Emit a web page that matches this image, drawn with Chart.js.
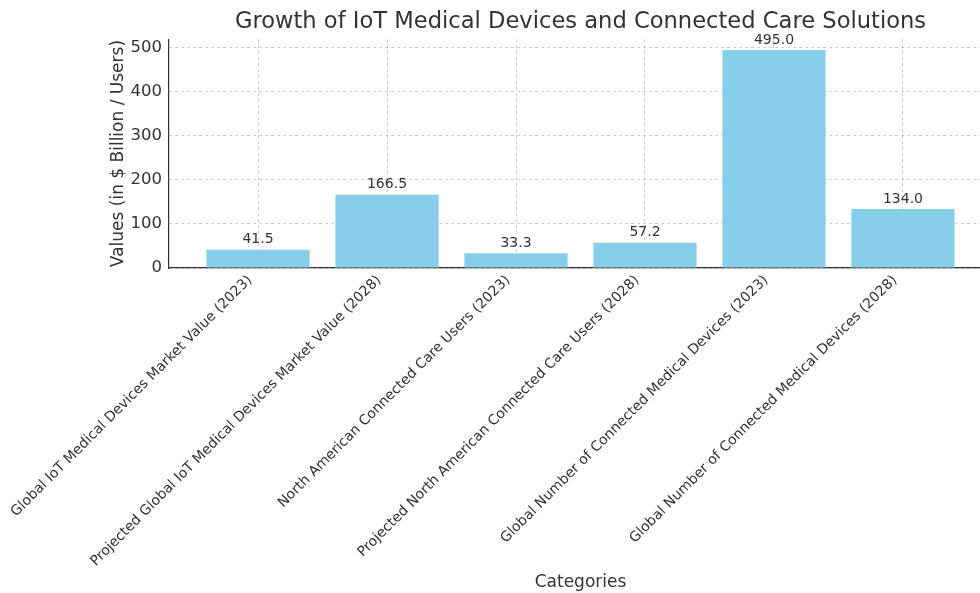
<!DOCTYPE html>
<html>
<head>
<meta charset="utf-8">
<script src="https://cdn.jsdelivr.net/npm/chart.js@4.4.1/dist/chart.umd.min.js"></script>
<style>
  html, body { margin: 0; padding: 0; background: #fff; overflow: hidden; }
  #wrap { width: 1000px; height: 593px; }
</style>
</head>
<body>
<div id="wrap"><canvas id="chart" width="1000" height="593"></canvas></div>
<script>
// categories and values
const categories = [
    'Global IoT Medical Devices Market Value (2023)',
    'Projected Global IoT Medical Devices Market Value (2028)',
    'North American Connected Care Users (2023)',
    'Projected North American Connected Care Users (2028)',
    'Global Number of Connected Medical Devices (2023)',
    'Global Number of Connected Medical Devices (2028)'
];
const values = [41.5, 166.5, 33.3, 57.2, 495.0, 134.0];
const yTicks = [0, 100, 200, 300, 400, 500];

const TEXT = '#333333';
const FONT = 'DejaVu Sans';
const GRID = 'rgba(0,0,0,0.2)';

// value labels over the bars
const barLabels = {
    id: 'barLabels',
    afterDatasetsDraw(chart) {
        const ctx = chart.ctx;
        const meta = chart.getDatasetMeta(0);
        ctx.save();
        ctx.font = `14px "${FONT}"`;
        ctx.fillStyle = TEXT;
        ctx.textAlign = 'center';
        ctx.textBaseline = 'bottom';
        meta.data.forEach((bar, i) => {
            ctx.fillText(values[i].toFixed(1), bar.x, bar.y - 3);
        });
        ctx.restore();
    }
};

new Chart(document.getElementById('chart'), {
    type: 'bar',
    data: {
        datasets: [{
            data: values.map((v, i) => ({ x: i, y: v })),
            backgroundColor: '#87CEEB',
            borderWidth: 0,
            barPercentage: 1,
            categoryPercentage: 0.8
        }]
    },
    options: {
        responsive: false,
        animation: false,
        layout: { padding: { left: 0, right: 8, top: 0, bottom: 0 } },
        plugins: {
            legend: { display: false },
            tooltip: { enabled: false },
            title: {
                display: true,
                fullSize: false,
                text: 'Growth of IoT Medical Devices and Connected Care Solutions',
                color: TEXT,
                font: { family: FONT, size: 22.6, weight: 'normal', lineHeight: 1.2 },
                padding: { top: 8.5, bottom: 3.5 }
            }
        },
        scales: {
            x: {
                type: 'linear',
                offset: false,
                min: -0.69,
                max: 5.69,
                afterBuildTicks: s => { s.ticks = categories.map((_, i) => ({ value: i })); },
                afterFit: s => { s.height = 325; s.paddingLeft = 0; s.paddingRight = 0; },
                grid: {
                    offset: false,
                    color: GRID,
                    tickColor: '#333',
                    tickLength: -4,
                    tickWidth: 1.2
                },
                border: { color: '#333', width: 1.2, dash: [3, 3] },
                ticks: {
                    color: TEXT,
                    font: { family: FONT, size: 14 },
                    minRotation: 45,
                    maxRotation: 45,
                    autoSkip: false,
                    padding: 8,
                    labelOffset: -8,
                    callback: v => categories[v]
                },
                title: {
                    display: true,
                    text: 'Categories',
                    color: TEXT,
                    font: { family: FONT, size: 17 },
                    padding: { top: 4, bottom: 0 }
                }
            },
            y: {
                min: 0,
                max: 519.75,
                afterBuildTicks: s => { s.ticks = yTicks.map(v => ({ value: v })); },
                afterFit: s => { s.width = 169; },
                grid: {
                    color: GRID,
                    drawTicks: false
                },
                border: { color: '#333', width: 1.2, dash: [3, 3] },
                ticks: {
                    color: TEXT,
                    font: { family: FONT, size: 16.5 },
                    padding: 7
                },
                title: {
                    display: true,
                    text: 'Values (in $ Billion / Users)',
                    color: TEXT,
                    font: { family: FONT, size: 17 },
                    padding: { top: 108, bottom: 0 }
                }
            }
        }
    },
    plugins: [barLabels]
});
</script>
</body>
</html>
